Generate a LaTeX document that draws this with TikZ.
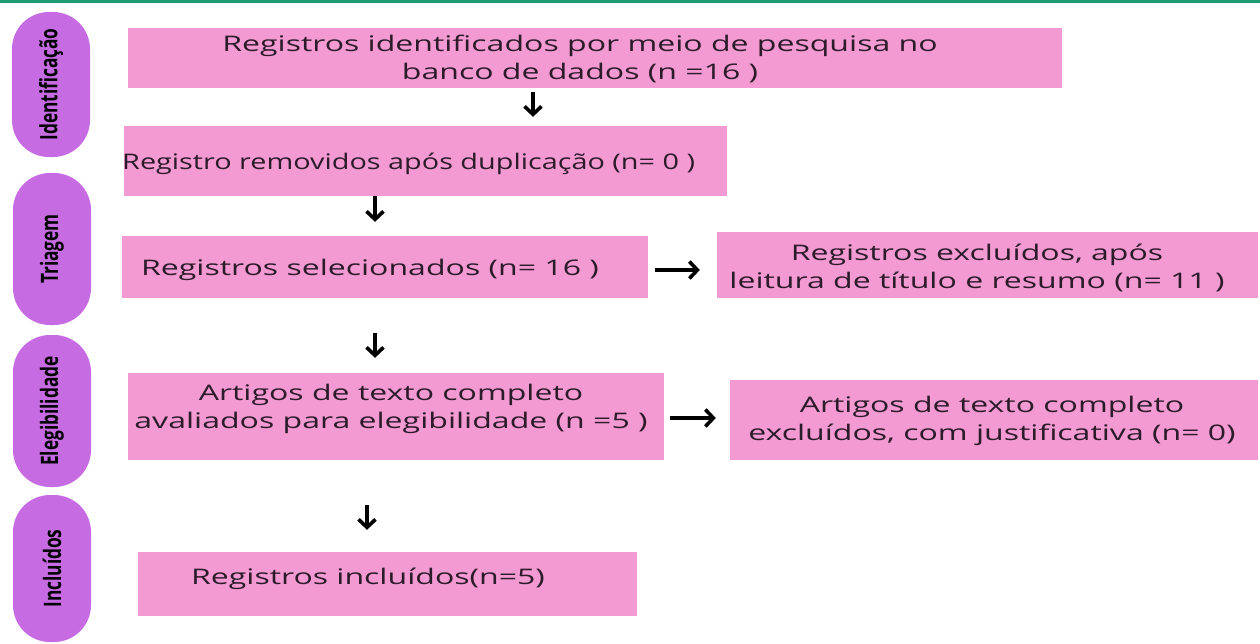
\documentclass[tikz,border=0pt]{standalone}
\usepackage{fontspec}
\setmainfont{Open Sans}[FakeStretch=1.49]
\newfontfamily\narrowfont{Open Sans}[FakeStretch=1.34]
\newfontfamily\pillfont{Open Sans}[FakeStretch=0.72]
\usetikzlibrary{arrows.meta}
\definecolor{pinkbox}{HTML}{F39AD3}
\definecolor{pillcol}{HTML}{C76BE3}
\definecolor{topbar}{HTML}{1E9B74}
\definecolor{txtcol}{HTML}{2B1B2B}
\tikzset{
  box/.style={draw=none,fill=pinkbox,inner sep=0pt,minimum width=#1},
  pill/.style={fill=pillcol,rounded corners=37pt,minimum width=78pt,inner sep=0pt},
  pilltxt/.style={rotate=90,text=black,font=\pillfont\bfseries\fontsize{24}{26}\selectfont},
  btxt/.style={text=txtcol,align=center,inner sep=0pt,font=\fontsize{21.5}{27.5}\selectfont},
  arr/.style={draw=black,line width=3.6pt,-{Straight Barb[length=8pt,width=17pt]}}
}
\begin{document}
\begin{tikzpicture}[x=1pt,y=-1pt]
\useasboundingbox (0,0) rectangle (1260,643);
\fill[topbar] (0,0) rectangle (1260,3);
% side pills
\node[pill,minimum height=145pt] (p1) at (51,84.5) {};
\node[pilltxt] (l1) at (p1.center) {Identificação};
\node[pill,minimum height=152pt] (p2) at (52,249) {};
\node[pilltxt] (l2) at (p2.center) {Triagem};
\node[pill,minimum height=152pt] (p3) at (52,411) {};
\node[pilltxt] (l3) at (p3.center) {Elegibilidade};
\node[pill,minimum height=147pt] (p4) at (52,568.5) {};
\node[pilltxt] (l4) at (p4.center) {Incluídos};
% boxes
\node[box=934pt,minimum height=60pt] (b1) at (595,58) {};
\node[box=603pt,minimum height=70pt] (b2) at (425.5,161) {};
\node[box=526pt,minimum height=62pt] (b3) at (385,267) {};
\node[box=541pt,minimum height=66pt] (b4) at (987.5,265) {};
\node[box=536pt,minimum height=87pt] (b5) at (396,416.5) {};
\node[box=528pt,minimum height=80pt] (b6) at (994,420) {};
\node[box=499pt,minimum height=64pt] (b7) at (387.5,584) {};
% texts
\node[btxt] (t1) at (580,59) {Registros identificados por meio de pesquisa no\\banco de dados (n =16 )};
\node[btxt,anchor=west,font=\narrowfont\fontsize{21.5}{27.5}\selectfont] (t2) at (122,164) {Registro removidos após duplicação (n= 0 )};
\node[btxt] (t3) at (370,270) {Registros selecionados (n= 16 )};
\node[btxt] (t4) at (977,268) {Registros excluídos, após\\leitura de título e resumo (n= 11 )};
\node[btxt] (t5) at (391,409) {Artigos de texto completo\\avaliados para elegibilidade (n =5 )};
\node[btxt] (t6) at (992,421) {Artigos de texto completo\\excluídos, com justificativa (n= 0)};
\node[btxt] (t7) at (368,579) {Registros incluídos(n=5)};
% arrows
\draw[arr,shorten <=4pt,shorten >=9pt] (b1.south -| 533,0) -- (b2.north -| 533,0);
\draw[arr,shorten <=0pt,shorten >=14pt] (b2.south -| 375,0) -- (b3.north -| 375,0);
\draw[arr,shorten <=35pt,shorten >=15pt] (b3.south -| 375,0) -- (b5.north -| 375,0);
\draw[arr,shorten <=45pt,shorten >=22pt] (b5.south -| 367,0) -- (b7.north -| 367,0);
\draw[arr,shorten <=7pt,shorten >=17pt] (b3.east |- 0,270) -- (b4.west |- 0,270);
\draw[arr,shorten <=6pt,shorten >=14pt] (b5.east |- 0,418) -- (b6.west |- 0,418);
\end{tikzpicture}
\end{document}
